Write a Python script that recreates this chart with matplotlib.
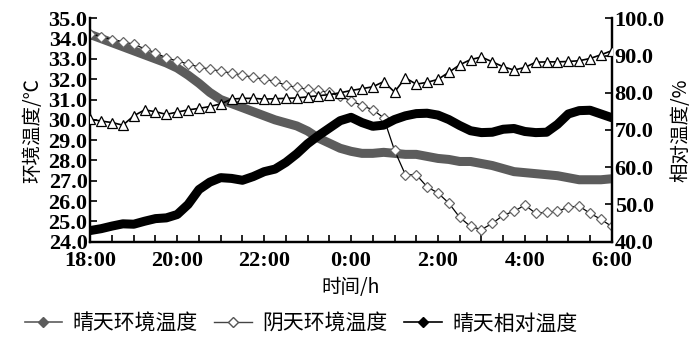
import matplotlib
matplotlib.use("Agg")
import matplotlib.pyplot as plt
from matplotlib.lines import Line2D
from matplotlib.ticker import MultipleLocator, FormatStrFormatter
import numpy as np

plt.rcParams['font.family'] = ['Liberation Serif', 'Noto Sans CJK SC']
CJK = ['Noto Sans CJK SC', 'DejaVu Sans']

# time axis: hours after 18:00, sampled every 15 min
hours = np.arange(49) * 0.25
tick_hours = [0, 2, 4, 6, 8, 10, 12]
tick_labels = ['18:00', '20:00', '22:00', '0:00', '2:00', '4:00', '6:00']

# sunny-day ambient temperature (C)
sunny_temp = [34.2, 34.0, 33.8, 33.6, 33.4, 33.2, 33.0, 32.8, 32.55, 32.2,
              31.8, 31.35, 31.0, 30.8, 30.6, 30.4, 30.2, 30.0, 29.85, 29.7,
              29.45, 29.1, 28.85, 28.6, 28.45, 28.35, 28.35, 28.4, 28.35, 28.3,
              28.3, 28.2, 28.1, 28.05, 27.95, 27.95, 27.85, 27.75, 27.6, 27.45,
              27.4, 27.35, 27.3, 27.25, 27.15, 27.05, 27.05, 27.05, 27.1]

# cloudy-day ambient temperature (C)
cloudy_temp = [34.25, 34.1, 33.95, 33.85, 33.72, 33.5, 33.3, 33.05, 32.9, 32.75,
               32.6, 32.5, 32.4, 32.3, 32.2, 32.1, 32.0, 31.9, 31.7, 31.6,
               31.5, 31.45, 31.35, 31.15, 30.95, 30.7, 30.5, 30.1, 28.5, 27.3,
               27.3, 26.7, 26.4, 25.9, 25.2, 24.75, 24.6, 24.9, 25.3, 25.5,
               25.8, 25.4, 25.45, 25.5, 25.7, 25.75, 25.4, 25.1, 24.75]

# sunny-day relative humidity (%)
sunny_rh = [43.0, 43.5, 44.2, 44.8, 44.7, 45.5, 46.2, 46.4, 47.3, 50.0,
            54.0, 56.0, 57.2, 57.0, 56.5, 57.5, 58.8, 59.5, 61.3, 63.6,
            66.3, 68.5, 70.5, 72.5, 73.4, 72.0, 71.0, 71.3, 72.8, 73.8,
            74.4, 74.5, 74.0, 72.8, 71.2, 69.8, 69.3, 69.4, 70.2, 70.4,
            69.6, 69.3, 69.4, 71.5, 74.3, 75.2, 75.3, 74.3, 73.3]

# cloudy-day relative humidity (%)
cloudy_rh = [72.9, 72.4, 72.0, 71.3, 73.8, 75.4, 74.9, 74.2, 74.8, 75.4,
             75.8, 76.3, 77.0, 78.3, 78.5, 78.5, 78.3, 78.4, 78.5, 78.6,
             78.9, 79.2, 79.5, 80.0, 80.6, 81.1, 81.6, 83.0, 80.2, 84.0,
             82.3, 82.8, 83.6, 85.5, 87.5, 88.9, 89.6, 88.3, 87.0, 86.1,
             86.8, 88.2, 88.3, 88.3, 88.4, 88.6, 89.2, 90.2, 91.3]

GRAY = '#5c5c5c'

fig = plt.figure(figsize=(7, 3.45), dpi=100)
ax = fig.add_axes([0.129, 0.2994, 0.745, 0.6476])
ax2 = ax.twinx()

ax.plot(hours, sunny_temp, color=GRAY, lw=6.5, solid_capstyle='round', zorder=3)
ax.plot(hours, cloudy_temp, color='black', lw=0.9,
        marker='D', ms=5, mfc='white', mec='#666666', mew=0.9, zorder=4)
ax2.plot(hours, sunny_rh, color='black', lw=6.5, solid_capstyle='round', zorder=3)
ax2.plot(hours, cloudy_rh, color='black', lw=1.2,
         marker='^', ms=7.5, mfc='white', mec='black', mew=0.9, zorder=4)

ax.set_xlim(0, 12)
ax.set_ylim(24, 35)
ax2.set_ylim(40, 100)
ax.set_xticks(tick_hours)
ax.set_xticklabels(tick_labels)
ax.xaxis.set_minor_locator(MultipleLocator(0.5))
ax.yaxis.set_major_locator(MultipleLocator(1))
ax.yaxis.set_major_formatter(FormatStrFormatter('%.1f'))
ax2.yaxis.set_major_locator(MultipleLocator(10))
ax2.yaxis.set_major_formatter(FormatStrFormatter('%.1f'))

for a in (ax, ax2):
    a.spines['top'].set_visible(False)
    for s in ('left', 'right', 'bottom'):
        a.spines[s].set_linewidth(1.6)
    a.tick_params(which='both', direction='in', length=5, width=1.2,
                  labelsize=16, pad=2)
    for lab in a.get_yticklabels():
        lab.set_fontweight('bold')
ax.tick_params(axis='x', which='both', pad=7)
for lab in ax.get_xticklabels():
    lab.set_fontweight('bold')

ax.set_xlabel('时间/h', family=CJK, fontsize=14, labelpad=4, fontweight='medium')
ax.set_ylabel('环境温度/℃', family=CJK, fontsize=14, labelpad=4, fontweight='medium')
ax2.set_ylabel('相对温度/%', family=CJK, fontsize=14, labelpad=4, fontweight='medium')

handles = [
    Line2D([], [], color=GRAY, lw=1.2, marker='D', ms=5, mfc=GRAY, mec=GRAY),
    Line2D([], [], color='#444444', lw=1.0, marker='D', ms=5, mfc='white', mec='#555555'),
    Line2D([], [], color='black', lw=1.2, marker='D', ms=5, mfc='black', mec='black'),
]
labels = ['晴天环境温度', '阴天环境温度', '晴天相对温度']
fig.legend(handles, labels, loc='center', bbox_to_anchor=(0.43, 0.062), ncol=3,
           frameon=False, prop={'family': CJK, 'size': 15},
           handlelength=1.8, handletextpad=0.5, columnspacing=0.8)

fig.savefig('out.png', dpi=100)
